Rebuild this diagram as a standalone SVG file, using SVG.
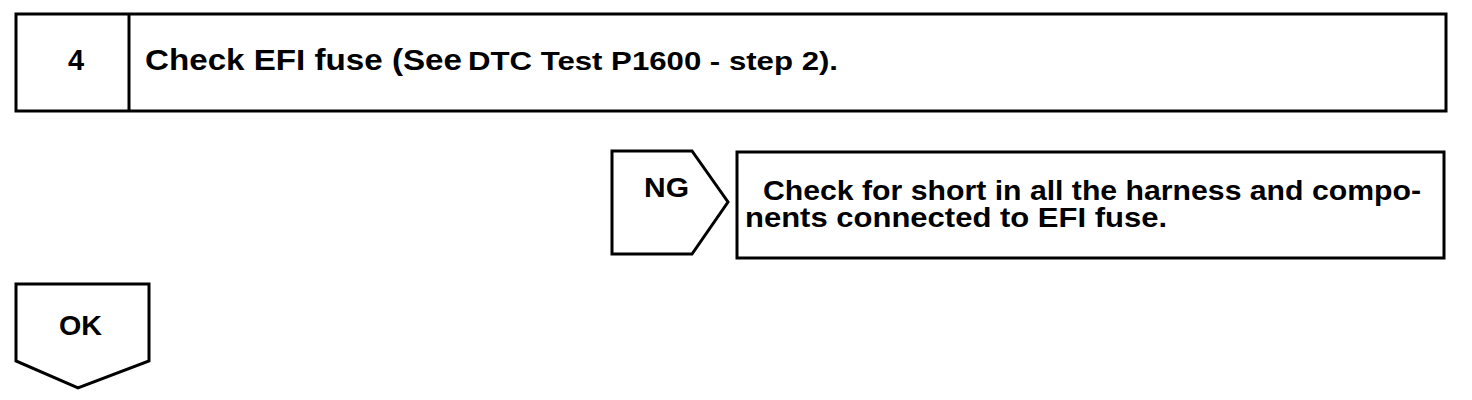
<svg xmlns="http://www.w3.org/2000/svg" width="1472" height="400" viewBox="0 0 1472 400">
<style>
.box{fill:#fff;stroke:#000;stroke-width:3}
.t{font-family:"Liberation Sans",Arial,sans-serif;font-weight:bold;fill:#000}
</style>
<rect width="1472" height="400" fill="#fff"/>
<g id="step4">
<rect class="box" x="16" y="14" width="1430" height="97"/>
<line x1="129" y1="14" x2="129" y2="111" stroke="#000" stroke-width="3"/>
<text class="t" x="76" y="70" font-size="29" text-anchor="middle">4</text>
<text class="t" x="145" y="70" font-size="30" textLength="317" lengthAdjust="spacingAndGlyphs">Check EFI fuse (See</text>
<text class="t" x="468" y="70" font-size="26" textLength="370" lengthAdjust="spacingAndGlyphs">DTC Test P1600 - step 2).</text>
</g>
<g id="ng">
<polygon class="box" points="612,151 692,151 728,202 692,254 612,254"/>
<text class="t" x="644" y="197" font-size="27" textLength="45" lengthAdjust="spacingAndGlyphs">NG</text>
</g>
<g id="action">
<rect class="box" x="737" y="152" width="707" height="106"/>
<text class="t" x="763" y="200" font-size="27" textLength="658" lengthAdjust="spacingAndGlyphs">Check for short in all the harness and compo-</text>
<text class="t" x="745" y="227" font-size="27" textLength="422" lengthAdjust="spacingAndGlyphs">nents connected to EFI fuse.</text>
</g>
<g id="ok">
<polygon class="box" points="16,284 149,284 149,361 78,388 16,361"/>
<text class="t" x="59" y="335" font-size="27" textLength="43" lengthAdjust="spacingAndGlyphs">OK</text>
</g>
<g id="connectors"></g>
</svg>
